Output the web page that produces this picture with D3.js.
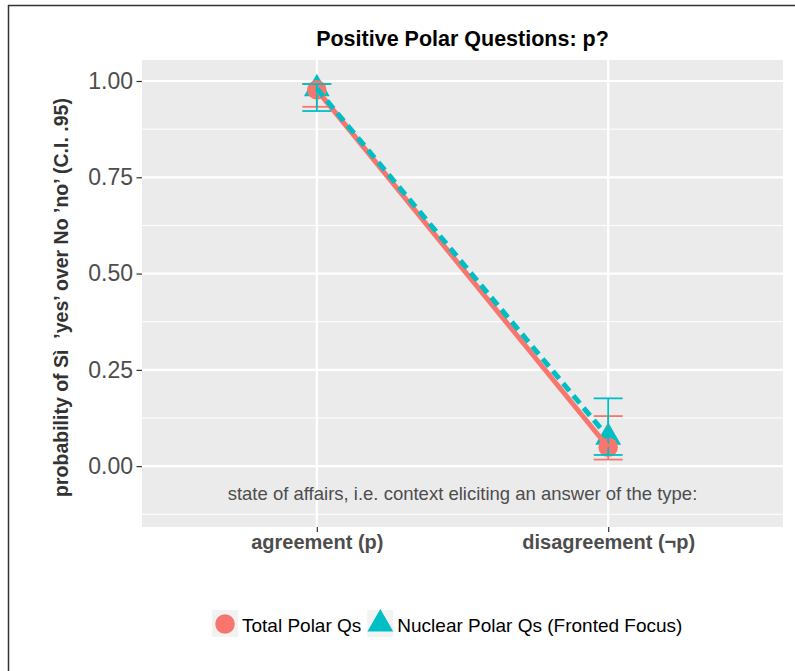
<!DOCTYPE html>
<html>
<head>
<meta charset="utf-8">
<script src="https://cdn.jsdelivr.net/npm/d3@7"></script>
<style>
  body { margin: 0; background: #fff; }
  svg { display: block; font-family: "Liberation Sans", Arial, Helvetica, sans-serif; }
</style>
</head>
<body>
<div id="chart"></div>
<script>
const width = 795;
const height = 671;

// data
const categories = ['agreement (p)', 'disagreement (\u00acp)'];
const seriesNames = ['Total Polar Qs', 'Nuclear Polar Qs (Fronted Focus)'];
const totalMean = [0.977, 0.049];
const totalLow = [0.933, 0.017];
const totalHigh = [0.992, 0.13];
const nuclearMean = [0.98, 0.075];
const nuclearLow = [0.922, 0.029];
const nuclearHigh = [0.992, 0.176];
const yTicks = [0, 0.25, 0.5, 0.75, 1];
const yMinor = [-0.125, 0.125, 0.375, 0.625, 0.875];

const colours = ['#F8766D', '#00BFC4'];

const panel = {left: 142, top: 60, right: 783, bottom: 527};

const series = [
  {name: seriesNames[0], mean: totalMean, low: totalLow, high: totalHigh, colour: colours[0], shape: 'circle', dash: null},
  {name: seriesNames[1], mean: nuclearMean, low: nuclearLow, high: nuclearHigh, colour: colours[1], shape: 'triangle', dash: '10,6'}
];

const svg = d3.select('#chart')
  .append('svg')
  .attr('width', width)
  .attr('height', height);

// outer frame (top and left edges only visible)
svg.append('line').attr('x1', 8).attr('x2', width).attr('y1', 5.5).attr('y2', 5.5)
  .attr('stroke', '#333').attr('stroke-width', 1.5);
svg.append('line').attr('x1', 8.5).attr('x2', 8.5).attr('y1', 5).attr('y2', height)
  .attr('stroke', '#333').attr('stroke-width', 1.5);

const x = d3.scalePoint()
  .domain(categories)
  .range([panel.left, panel.right])
  .padding(0.6);

const y = d3.scaleLinear()
  .domain([-0.158, 1.0545])
  .range([panel.bottom, panel.top]);

// panel background
svg.append('rect')
  .attr('x', panel.left)
  .attr('y', panel.top)
  .attr('width', panel.right - panel.left)
  .attr('height', panel.bottom - panel.top)
  .attr('fill', '#EBEBEB');

const grid = svg.append('g');
grid.selectAll('.minor')
  .data(yMinor)
  .enter()
  .append('line')
  .attr('x1', panel.left).attr('x2', panel.right)
  .attr('y1', d => y(d)).attr('y2', d => y(d))
  .attr('stroke', '#fff').attr('stroke-width', 1);
grid.selectAll('.major')
  .data(yTicks)
  .enter()
  .append('line')
  .attr('x1', panel.left).attr('x2', panel.right)
  .attr('y1', d => y(d)).attr('y2', d => y(d))
  .attr('stroke', '#fff').attr('stroke-width', 2.2);
grid.selectAll('.vmajor')
  .data(categories)
  .enter()
  .append('line')
  .attr('x1', d => x(d)).attr('x2', d => x(d))
  .attr('y1', panel.top).attr('y2', panel.bottom)
  .attr('stroke', '#fff').attr('stroke-width', 2.2);

// annotation inside panel
svg.append('text')
  .attr('x', (panel.left + panel.right) / 2)
  .attr('y', 500)
  .attr('text-anchor', 'middle')
  .attr('font-size', 18.5)
  .attr('fill', '#4D4D4D')
  .text('state of affairs, i.e. context eliciting an answer of the type:');

// y axis
const yAxis = svg.append('g')
  .attr('transform', 'translate(' + panel.left + ',0)')
  .call(d3.axisLeft(y).tickValues(yTicks).tickFormat(d3.format('.2f')).tickSize(5.5).tickPadding(3.5));
yAxis.select('.domain').remove();
yAxis.selectAll('.tick line').attr('stroke', '#333').attr('stroke-width', 1.2);
yAxis.selectAll('.tick text')
  .attr('font-size', 23)
  .attr('fill', '#4D4D4D')
  .attr('font-family', '"Liberation Sans", Arial, sans-serif');

// x axis
const xAxis = svg.append('g')
  .attr('transform', 'translate(0,' + panel.bottom + ')')
  .call(d3.axisBottom(x).tickSize(5).tickPadding(2.5));
xAxis.select('.domain').remove();
xAxis.selectAll('.tick line').attr('stroke', '#333').attr('stroke-width', 1.2);
xAxis.selectAll('.tick text')
  .attr('font-size', 20)
  .attr('font-weight', 'bold')
  .attr('fill', '#4D4D4D')
  .attr('font-family', '"Liberation Sans", Arial, sans-serif');

// titles
svg.append('text')
  .attr('x', (panel.left + panel.right) / 2)
  .attr('y', 46)
  .attr('text-anchor', 'middle')
  .attr('font-size', 21.5)
  .attr('font-weight', 'bold')
  .attr('fill', '#000')
  .text('Positive Polar Questions: p?');

svg.append('text')
  .attr('transform', 'translate(68,' + ((panel.top + panel.bottom) / 2 + 4) + ') rotate(-90)')
  .attr('text-anchor', 'middle')
  .attr('font-size', 19.5)
  .attr('font-weight', 'bold')
  .attr('fill', '#333')
  .style('white-space', 'pre')
  .text('probability of S\u00ec  \u2019yes\u2019 over No \u2019no\u2019 (C.I. .95)');

// points (triangles beneath circles)
const circleSym = d3.symbol().type(d3.symbolCircle).size(300);
const triSym = d3.symbol().type(d3.symbolTriangle).size(290);
series.slice().reverse().forEach(function(s) {
  svg.selectAll(null)
    .data(s.mean)
    .enter()
    .append('path')
    .attr('d', s.shape === 'circle' ? circleSym : triSym)
    .attr('transform', (d, i) => 'translate(' + x(categories[i]) + ',' + y(d) + ')')
    .attr('fill', s.colour);
});

// error bars
const capHalf = 14.5;
series.forEach(function(s) {
  const g = svg.append('g');
  categories.forEach(function(c, i) {
    const cx = x(c);
    g.append('line').attr('x1', cx).attr('x2', cx)
      .attr('y1', y(s.low[i])).attr('y2', y(s.high[i]))
      .attr('stroke', s.colour).attr('stroke-width', 1.8);
    [s.low[i], s.high[i]].forEach(function(v) {
      g.append('line').attr('x1', cx - capHalf).attr('x2', cx + capHalf)
        .attr('y1', y(v)).attr('y2', y(v))
        .attr('stroke', s.colour).attr('stroke-width', 1.8);
    });
  });
});

// lines
const line = d3.line()
  .x((d, i) => x(categories[i]))
  .y(d => y(d));

series.forEach(function(s) {
  svg.append('path')
    .datum(s.mean)
    .attr('d', line)
    .attr('fill', 'none')
    .attr('stroke', s.colour)
    .attr('stroke-width', 5)
    .attr('stroke-dasharray', s.dash);
});

// legend
const legend = svg.append('g').attr('transform', 'translate(212,610)');
let lx = 0;
series.forEach(function(s) {
  const item = legend.append('g').attr('transform', 'translate(' + lx + ',0)');
  item.append('rect').attr('width', 26).attr('height', 27).attr('fill', '#F2F2F2');
  item.append('path')
    .attr('d', s.shape === 'circle' ? circleSym : triSym)
    .attr('transform', 'translate(13,14)')
    .attr('fill', s.colour);
  const t = item.append('text')
    .attr('x', 30)
    .attr('y', 21.5)
    .attr('font-size', 19)
    .attr('fill', '#000')
    .text(s.name);
  lx += 30 + t.node().getComputedTextLength() + 6;
});
</script>
</body>
</html>
